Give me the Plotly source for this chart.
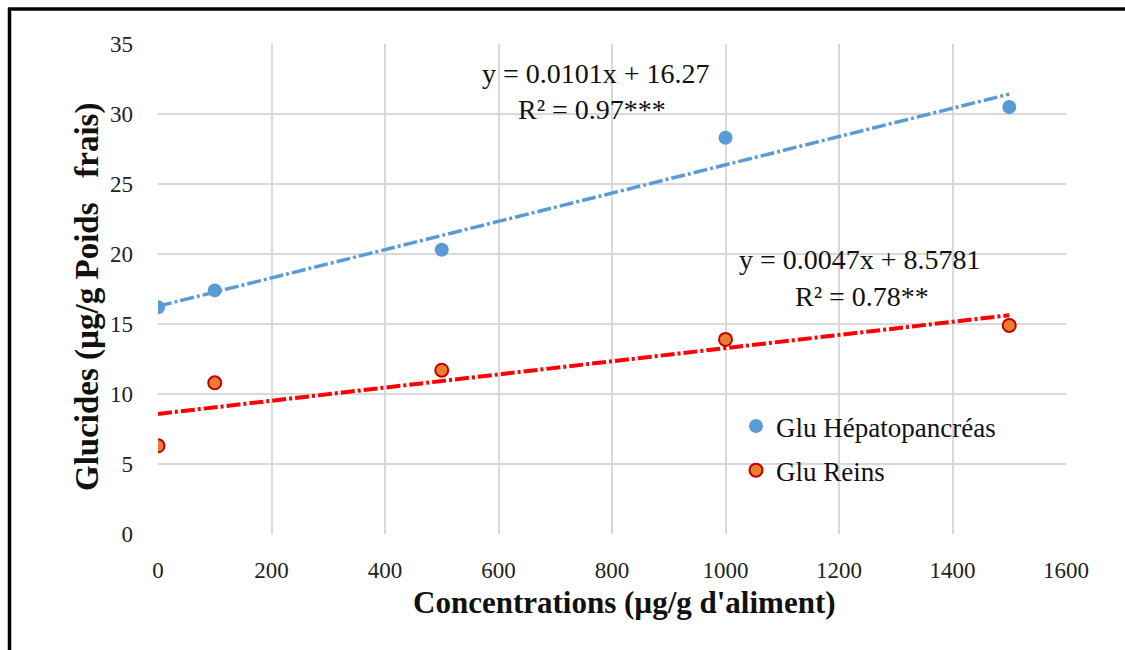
import plotly.graph_objects as go

# ---- data ----
concentrations = [0, 100, 500, 1000, 1500]
glu_hepato = [16.2, 17.4, 20.3, 28.3, 30.5]
glu_reins = [6.3, 10.8, 11.7, 13.9, 14.9]

hepato_slope, hepato_intercept = 0.0101, 16.27
reins_slope, reins_intercept = 0.0047, 8.5781

x_ticks = [0, 200, 400, 600, 800, 1000, 1200, 1400, 1600]
y_ticks = [0, 5, 10, 15, 20, 25, 30, 35]

FONT = "Book Antiqua, Palatino Linotype, Liberation Serif, serif"

W, H = 1125, 650
L, R, T, B = 158, 59, 44, 116
PW, PH = W - L - R, H - T - B


def px(xp):
    return (xp - L) / PW


def py(yp):
    return (H - B - yp) / PH


trend_x = [min(concentrations), max(concentrations)]
hep_trend = [hepato_intercept + hepato_slope * v for v in trend_x]
rei_trend = [reins_intercept + reins_slope * v for v in trend_x]

fig = go.Figure()
fig.add_trace(go.Scatter(x=trend_x, y=hep_trend, mode="lines", showlegend=False,
                         line=dict(color="#5B9BD5", width=3.5, dash="14px,3px,3px,3px")))
fig.add_trace(go.Scatter(x=trend_x, y=rei_trend, mode="lines", showlegend=False,
                         line=dict(color="#FF0000", width=4, dash="14px,3px,3px,3px")))
fig.add_trace(go.Scatter(x=concentrations, y=glu_hepato, mode="markers",
                         name="Glu Hépatopancréas", legendgroup="a",
                         marker=dict(color="#5B9BD5", size=14, line=dict(width=0))))
fig.add_trace(go.Scatter(x=concentrations, y=glu_reins, mode="markers",
                         name="Glu Reins", legendgroup="b",
                         marker=dict(color="#ED7D31", size=13,
                                     line=dict(color="#C00000", width=2))))

grid = "#D9D9D9"
fig.update_xaxes(range=[0, 1600], tickvals=x_ticks, showgrid=True, gridcolor=grid,
                 gridwidth=1.5, zeroline=False, showline=False, ticks="",
                 tickfont=dict(family=FONT, size=23, color="#222"), ticklabelstandoff=20)
fig.update_yaxes(range=[0, 35], tickvals=y_ticks, showgrid=True, gridcolor=grid,
                 gridwidth=1.5, zeroline=False, showline=False, ticks="",
                 tickfont=dict(family=FONT, size=23, color="#222"), ticklabelstandoff=24)

ann = [
    dict(text="<b>Concentrations (µg/g d'aliment)</b>", x=px(624), y=py(602), size=31, angle=0),
    dict(text="<b>Glucides (µg/g Poids   frais)</b>", x=px(87), y=py(297), size=33, angle=-90),
    dict(text="y = 0.0101x + 16.27", x=px(596), y=py(74), size=28, angle=0),
    dict(text="R² = 0.97***", x=px(592), y=py(110), size=28, angle=0),
    dict(text="y = 0.0047x + 8.5781", x=px(860), y=py(259), size=28, angle=0),
    dict(text="R² = 0.78**", x=px(862), y=py(296), size=28, angle=0),
]
annotations = [dict(xref="paper", yref="paper", showarrow=False,
                    xanchor="center", yanchor="middle",
                    font=dict(family=FONT, color="#111", size=a["size"]),
                    text=a["text"], x=a["x"], y=a["y"], textangle=a["angle"])
               for a in ann]

shapes = [
    dict(type="line", xref="paper", yref="paper", x0=px(8), x1=px(1125), y0=py(9), y1=py(9),
         line=dict(color="black", width=3.5)),
    dict(type="line", xref="paper", yref="paper", x0=px(9.5), x1=px(9.5), y0=py(8), y1=py(650),
         line=dict(color="black", width=3.5)),
]

fig.update_layout(
    width=W, height=H,
    margin=dict(l=L, r=R, t=T, b=B),
    paper_bgcolor="white", plot_bgcolor="white",
    annotations=annotations, shapes=shapes,
    legend=dict(x=px(736), y=py(402), xanchor="left", yanchor="top",
                bgcolor="rgba(0,0,0,0)", font=dict(family=FONT, size=27, color="#111"),
                itemwidth=30, tracegroupgap=6),
)

fig.write_html("out.html")
